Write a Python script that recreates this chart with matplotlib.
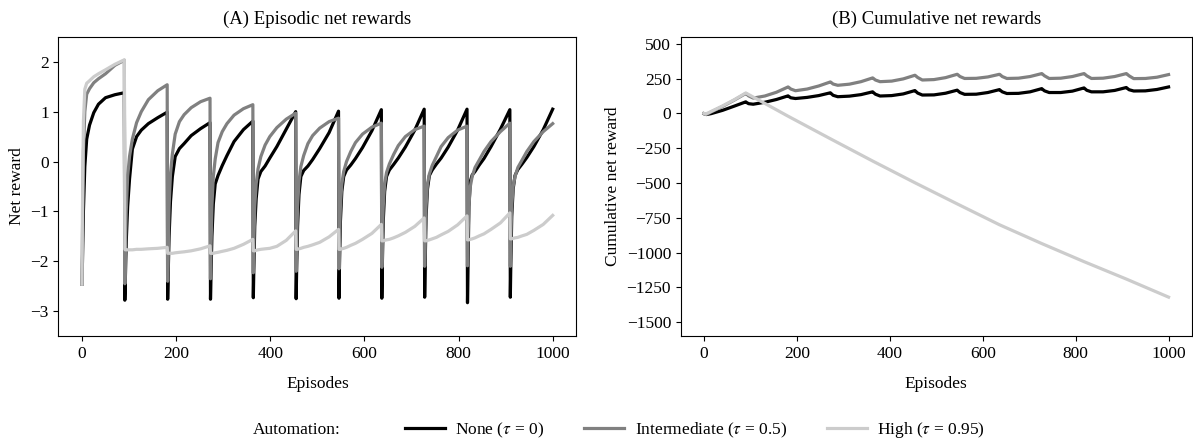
import numpy as np
import matplotlib
matplotlib.use("Agg")
import matplotlib.pyplot as plt
from matplotlib.lines import Line2D

plt.rcParams['font.family'] = ['Liberation Serif', 'DejaVu Serif']
plt.rcParams['mathtext.fontset'] = 'stix'
plt.rcParams['font.size'] = 12.5

# episodes where each reset cycle starts, and sampled offsets inside a cycle
CYCLE_STARTS = [0, 91, 182, 273, 364, 455, 546, 637, 728, 819, 910]
EP_OFFSETS = [0, 1, 3, 6, 10, 16, 25, 35, 50, 70, 90]

# (A) episodic net reward, one row per cycle
none_ep = [
    [-2.46, -2.0, -1.0, -0.1, 0.45, 0.73, 0.98, 1.15, 1.28, 1.34, 1.38],
    [-2.78, -2.4, -1.6, -0.9, -0.35, 0.25, 0.5, 0.63, 0.76, 0.88, 0.99],
    [-2.76, -2.3, -1.5, -0.8, -0.3, 0.1, 0.26, 0.36, 0.52, 0.66, 0.78],
    [-2.76, -2.3, -1.5, -0.85, -0.45, -0.28, -0.08, 0.12, 0.4, 0.64, 0.81],
    [-2.73, -2.2, -1.3, -0.75, -0.35, -0.2, -0.09, 0.07, 0.3, 0.65, 1.00],
    [-2.75, -2.2, -1.3, -0.66, -0.3, -0.18, -0.09, 0.04, 0.26, 0.58, 1.01],
    [-2.74, -2.1, -1.2, -0.6, -0.3, -0.17, -0.07, 0.06, 0.28, 0.62, 1.04],
    [-2.74, -2.1, -1.2, -0.6, -0.3, -0.17, -0.06, 0.07, 0.29, 0.63, 1.05],
    [-2.72, -2.1, -1.1, -0.55, -0.28, -0.17, -0.05, 0.07, 0.29, 0.63, 1.05],
    [-2.83, -2.2, -0.9, -0.4, -0.27, -0.2, -0.07, 0.06, 0.3, 0.65, 1.04],
    [-2.72, -2.1, -1.1, -0.55, -0.28, -0.16, -0.05, 0.08, 0.3, 0.64, 1.05],
]
mid_ep = [
    [-2.46, -1.5, 0.2, 1.0, 1.35, 1.46, 1.58, 1.66, 1.76, 1.93, 2.03],
    [-2.45, -1.8, -1.0, -0.3, 0.1, 0.45, 0.78, 1.0, 1.24, 1.42, 1.54],
    [-2.40, -1.8, -0.9, -0.25, 0.15, 0.55, 0.8, 0.94, 1.08, 1.2, 1.27],
    [-2.35, -1.8, -0.9, -0.3, 0.05, 0.38, 0.6, 0.76, 0.93, 1.06, 1.14],
    [-2.23, -1.7, -0.9, -0.45, -0.15, 0.1, 0.33, 0.5, 0.68, 0.85, 0.97],
    [-2.20, -1.7, -0.9, -0.4, -0.1, 0.12, 0.36, 0.52, 0.67, 0.8, 0.87],
    [-2.15, -1.6, -0.9, -0.45, -0.2, 0.0, 0.2, 0.38, 0.55, 0.69, 0.77],
    [-2.12, -1.6, -0.9, -0.45, -0.22, -0.05, 0.14, 0.32, 0.5, 0.64, 0.71],
    [-2.10, -1.6, -0.9, -0.45, -0.25, -0.08, 0.1, 0.3, 0.48, 0.63, 0.71],
    [-2.09, -1.6, -0.9, -0.5, -0.3, -0.12, 0.03, 0.2, 0.4, 0.6, 0.77],
    [-2.10, -1.6, -0.9, -0.5, -0.3, -0.12, 0.03, 0.2, 0.4, 0.6, 0.76],
]
high_ep = [
    [-2.46, -1.0, 0.8, 1.45, 1.57, 1.62, 1.70, 1.76, 1.84, 1.95, 2.04],
    [-1.76, -1.77, -1.77, -1.77, -1.77, -1.77, -1.76, -1.76, -1.75, -1.74, -1.72],
    [-1.84, -1.84, -1.84, -1.84, -1.84, -1.83, -1.82, -1.81, -1.79, -1.75, -1.69],
    [-1.84, -1.84, -1.84, -1.84, -1.83, -1.82, -1.80, -1.78, -1.74, -1.66, -1.56],
    [-1.79, -1.79, -1.79, -1.78, -1.77, -1.76, -1.75, -1.74, -1.70, -1.58, -1.39],
    [-1.76, -1.76, -1.76, -1.75, -1.74, -1.72, -1.70, -1.67, -1.62, -1.51, -1.36],
    [-1.76, -1.76, -1.76, -1.75, -1.74, -1.72, -1.68, -1.64, -1.56, -1.44, -1.26],
    [-1.59, -1.59, -1.59, -1.58, -1.57, -1.56, -1.53, -1.49, -1.42, -1.30, -1.13],
    [-1.59, -1.59, -1.59, -1.58, -1.57, -1.55, -1.52, -1.47, -1.40, -1.27, -1.09],
    [-1.57, -1.57, -1.57, -1.56, -1.55, -1.53, -1.49, -1.45, -1.36, -1.23, -1.03],
    [-1.55, -1.55, -1.55, -1.54, -1.53, -1.52, -1.49, -1.46, -1.38, -1.26, -1.08],
]

# (B) cumulative net reward, sampled at these offsets in each cycle
CUM_OFFSETS = [0, 5, 15, 40, 65, 90]
none_cum = [
    [-2, -8, -2, 22, 52, 83],
    [80, 70, 66, 80, 100, 126],
    [123, 112, 107, 115, 128, 148],
    [145, 130, 120, 124, 135, 155],
    [152, 138, 125, 128, 140, 164],
    [161, 146, 132, 133, 145, 167],
    [164, 150, 137, 138, 150, 171],
    [168, 155, 143, 144, 155, 178],
    [175, 162, 150, 150, 160, 183],
    [180, 166, 155, 155, 165, 186],
    [183, 170, 161, 162, 172, 190],
]
mid_cum = [
    [-2, -8, 10, 50, 95, 143],
    [141, 126, 110, 125, 152, 190],
    [188, 175, 163, 175, 197, 226],
    [224, 211, 202, 210, 228, 255],
    [253, 240, 228, 232, 248, 274],
    [272, 258, 240, 243, 257, 281],
    [279, 265, 251, 252, 262, 281],
    [279, 265, 251, 253, 265, 286],
    [284, 270, 251, 253, 265, 286],
    [284, 270, 251, 253, 265, 286],
    [284, 270, 250, 251, 260, 279],
]
high_cum_x = [0, 3, 10, 40, 65, 90, 181, 272, 363, 454, 545, 636, 727, 818, 909, 1000]
high_cum = [0, -5, 5, 54, 98, 147, -20, -182, -342, -498, -650, -800, -935, -1065, -1190, -1320]

COLORS = ['#000000', '#808080', '#cccccc']
LABELS = [r'None ($\tau$ = 0)', r'Intermediate ($\tau$ = 0.5)', r'High ($\tau$ = 0.95)']


def flatten(rows, offsets):
    x = [s + o for s in CYCLE_STARTS for o in offsets]
    y = [v for row in rows for v in row]
    return np.array(x), np.array(y)


fig = plt.figure(figsize=(11.93, 4.44), dpi=100)
ax1 = fig.add_axes([0.049, 0.243, 0.434, 0.674])
ax2 = fig.add_axes([0.5706, 0.243, 0.4284, 0.674])

for rows, c in zip([none_ep, mid_ep, high_ep], COLORS):
    x, y = flatten(rows, EP_OFFSETS)
    ax1.plot(x, y, color=c, lw=2.3, solid_joinstyle='round')

for rows, c in zip([none_cum, mid_cum], COLORS[:2]):
    x, y = flatten(rows, CUM_OFFSETS)
    ax2.plot(x, y, color=c, lw=2.3)
ax2.plot(high_cum_x, high_cum, color=COLORS[2], lw=2.3)

ax1.set_xlim(-50, 1050)
ax1.set_ylim(-3.5, 2.5)
ax1.set_yticks([-3, -2, -1, 0, 1, 2])
ax1.set_xticks([0, 200, 400, 600, 800, 1000])
ax1.set_title('(A) Episodic net rewards', pad=9, fontsize=13.5)
ax1.set_xlabel('Episodes', labelpad=10)
ax1.set_ylabel('Net reward')

ax2.set_xlim(-50, 1050)
ax2.set_ylim(-1600, 550)
ax2.set_yticks(np.arange(-1500, 501, 250))
ax2.set_xticks([0, 200, 400, 600, 800, 1000])
ax2.set_title('(B) Cumulative net rewards', pad=9, fontsize=13.5)
ax2.set_xlabel('Episodes', labelpad=10)
ax2.set_ylabel('Cumulative net reward')

# legend row at the bottom
fig.text(253 / 1193, 14 / 444, 'Automation:', ha='left', va='center')
handles = [Line2D([], [], color=c, lw=2.3) for c in COLORS]
fig.legend(handles, LABELS, loc='center left', bbox_to_anchor=(405 / 1193, 14 / 444),
           ncol=3, frameon=False, handlelength=2.3, handletextpad=0.6,
           columnspacing=2.3, borderpad=0, borderaxespad=0)

fig.savefig('out.png', dpi=100)
